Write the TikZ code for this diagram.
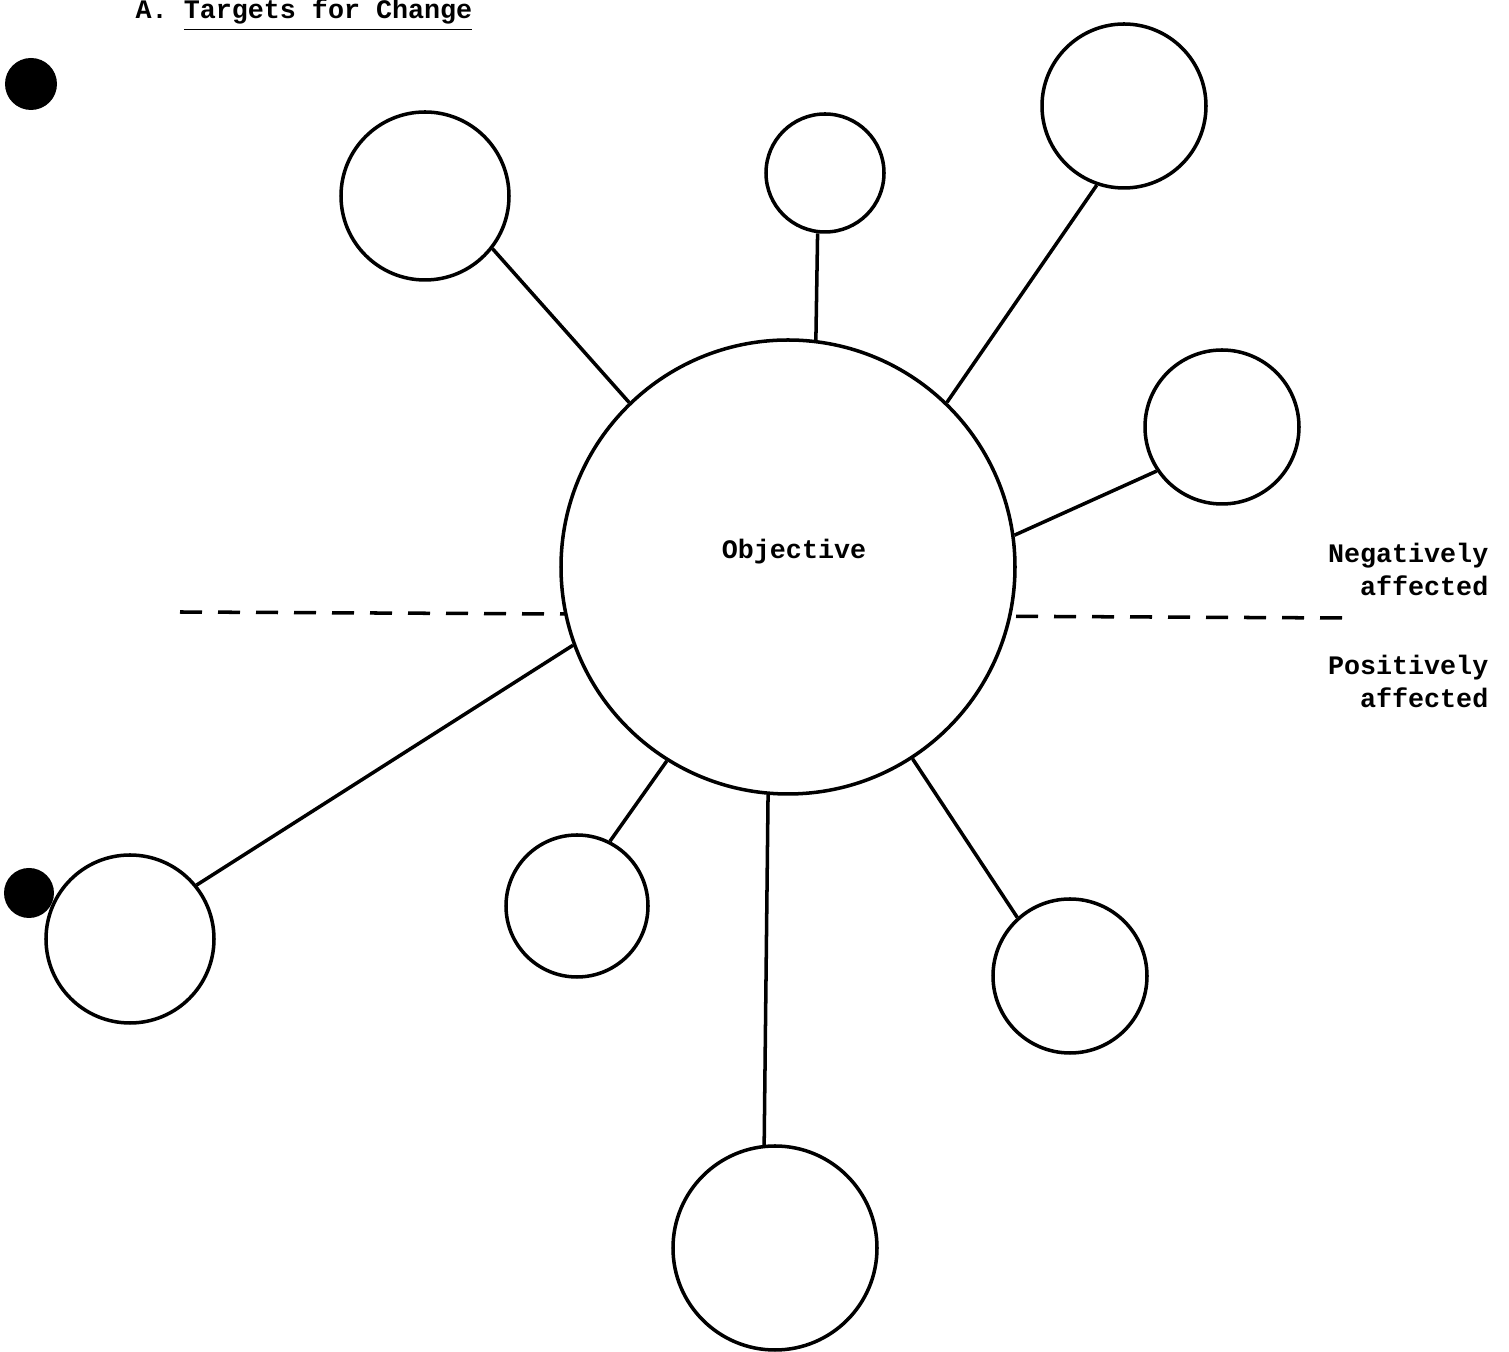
\documentclass[tikz,border=0pt]{standalone}
\usepackage{fontspec}
\setmonofont{Liberation Mono}
\usepackage{tikz}
\usetikzlibrary{positioning,calc,backgrounds}
\tikzset{
  hub/.style     = {circle, draw=black, fill=white, line width=1pt, inner sep=0pt, minimum size=4.54cm},
  target/.style  = {circle, draw=black, fill=white, line width=1pt, inner sep=0pt},
  link/.style    = {draw=black, line width=1pt},
  split/.style   = {draw=black, line width=1pt, dash pattern=on 0.22cm off 0.16cm},
  hole/.style    = {circle, fill=black, inner sep=0pt},
  mono/.style    = {font=\fontsize{7.6}{9.4}\selectfont\ttfamily\bfseries, inner sep=0pt},
}
\begin{document}
\begin{tikzpicture}[x=1cm,y=1cm]
  \useasboundingbox (0,0) rectangle (15.09,-13.52);

  % title
  \node[mono, anchor=base west] (title) at (1.35,-0.19) {A. \underline{Targets for Change}};

  % punch holes
  \node[hole, minimum size=0.52cm] (hole1) at (0.31,-0.84) {};

  % positive / negative split
  \coordinate (splitl) at (1.80,-6.12);
  \coordinate (splitr) at (13.43,-6.18);
  \draw[split] (splitl) -- (splitr);

  \node[hub] (hub) at (7.88,-5.67) {};
  \node[mono] (objlbl) at (7.94,-5.52) {Objective};

  % targets
  \node[target, minimum size=1.68cm] (t1) at (4.25,-1.96) {};
  \node[target, minimum size=1.18cm] (t2) at (8.25,-1.73) {};
  \node[target, minimum size=1.64cm] (t3) at (11.24,-1.06) {};
  \node[target, minimum size=1.54cm] (t4) at (12.22,-4.27) {};
  \node[target, minimum size=1.54cm] (t5) at (10.70,-9.76) {};
  \node[target, minimum size=2.04cm] (t6) at (7.75,-12.48) {};
  \node[target, minimum size=1.42cm] (t7) at (5.77,-9.06) {};
  \node[target, minimum size=1.68cm] (t8) at (1.30,-9.39) {};

  \foreach \t/\a/\b in {t1/134/322, t2/83/263, t3/46/251, t4/8/214,
                        t5/303/132, t6/265/96, t7/238/63, t8/200/39} {
    \draw[link] (hub.\a) -- (\t.\b);
  }

  \node[hole, minimum size=0.50cm] (hole2) at (0.29,-8.93) {};

  % side labels
  \node[mono, align=right, anchor=north east] (neg) at (14.89,-5.42) {Negatively\\affected};
  \node[mono, align=right, anchor=north east] (pos) at (14.89,-6.54) {Positively\\affected};
\end{tikzpicture}
\end{document}
